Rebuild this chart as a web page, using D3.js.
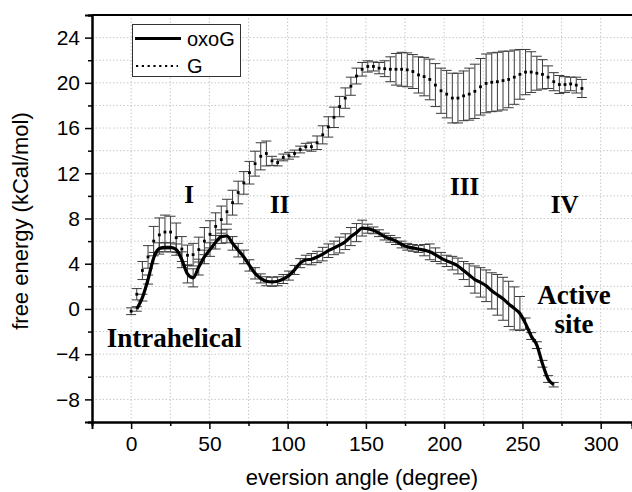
<!DOCTYPE html>
<html>
<head>
<meta charset="utf-8">
<script src="https://cdn.jsdelivr.net/npm/d3@7"></script>
<style>
  html, body { margin: 0; padding: 0; background: #fff; }
  svg { display: block; }
</style>
</head>
<body>
<svg id="chart" width="632" height="492"></svg>
<script>
// ---------- data ----------
const gAngle = [0,3.6,7.2,10.8,14.4,18,21.6,25.2,28.8,32.4,36,39.6,43.2,46.8,50.4,54,57.6,61.2,64.8,68.4,
  72,75.6,79.2,82.8,86.4,90,93.6,97.2,100.8,104.4,108,111.6,115.2,118.8,122.4,126,129.6,133.2,136.8,140.4,
  144,147.6,151.2,154.8,158.4,162,165.6,169.2,172.8,176.4,180,183.6,187.2,190.8,194.4,198,201.6,205.2,208.8,212.4,
  216,219.6,223.2,226.8,230.4,234,237.6,241.2,244.8,248.4,252,255.6,259.2,262.8,266.4,270,273.6,277.2,280.8,284.4,288];
const gMean = [-0.2,1.3,3.4,4.6,6.0,6.55,6.8,6.8,6.3,5.3,4.75,4.8,5.25,6.0,6.6,7.3,7.9,8.6,9.4,10.3,
  11.15,12.05,12.85,13.5,13.75,13.1,12.95,13.4,13.55,13.75,14.1,14.35,14.35,14.7,15.4,16.1,16.95,17.9,18.65,19.7,
  20.6,21.2,21.45,21.45,21.3,21.25,21.2,21.2,21.2,21.15,21.0,20.7,20.55,20.3,19.8,19.3,19.0,18.65,18.65,18.85,
  19.0,19.25,19.65,19.95,20.05,20.1,20.2,20.3,20.5,20.75,20.95,20.95,20.85,20.75,20.5,20.1,19.85,19.85,19.9,19.8,19.5];
const gErr = [0.3,0.5,0.8,1.0,1.3,1.5,1.5,1.4,1.3,1.1,0.9,1.0,1.1,1.2,1.2,1.2,1.2,1.1,1.1,1.0,
  1.0,1.0,1.1,1.2,1.1,0.4,0.3,0.3,0.3,0.3,0.3,0.3,0.4,0.6,0.8,0.9,0.9,0.9,0.9,0.8,
  0.7,0.6,0.5,0.4,0.5,0.7,1.1,1.4,1.5,1.5,1.5,1.6,1.7,1.8,1.9,2.0,2.1,2.2,2.2,2.2,
  2.3,2.4,2.5,2.6,2.6,2.6,2.6,2.5,2.4,2.2,2.0,1.8,1.5,1.3,1.0,0.8,0.8,0.7,0.6,0.7,0.8];

const oxoAngle = [3.6,7.2,10.8,14.4,18,21.6,25.2,28.8,32.4,36,39.6,43.2,46.8,50.4,54,57.6,61.2,64.8,68.4,
  72,75.6,79.2,82.8,86.4,90,93.6,97.2,100.8,104.4,108,111.6,115.2,118.8,122.4,126,129.6,133.2,136.8,140.4,
  144,147.6,151.2,154.8,158.4,162,165.6,169.2,172.8,176.4,180,183.6,187.2,190.8,194.4,198,201.6,205.2,208.8,212.4,
  216,219.6,223.2,226.8,230.4,234,237.6,241.2,244.8,248.4,252,255.6,259.2,262.8,266.4,270];
const oxoMean = [0.0,1.0,2.6,4.5,5.35,5.45,5.45,5.25,4.35,3.1,2.75,3.7,4.6,5.25,5.9,6.4,6.45,5.8,5.2,
  4.6,3.85,3.15,2.7,2.45,2.4,2.45,2.65,2.95,3.45,4.05,4.35,4.4,4.6,4.85,5.15,5.4,5.65,5.95,6.4,
  6.75,7.15,7.1,6.95,6.7,6.4,6.2,6.0,5.7,5.5,5.4,5.3,5.2,5.05,4.8,4.5,4.25,4.05,3.8,3.4,
  3.0,2.6,2.35,2.05,1.6,1.25,0.9,0.45,0.05,-0.4,-1.3,-2.4,-3.2,-4.85,-6.2,-6.7];
const oxoErr = [0.2,0.3,0.4,0.5,0.5,0.4,0.4,0.5,0.7,0.8,0.8,0.7,0.6,0.6,0.6,0.6,0.6,0.6,0.6,
  0.6,0.5,0.5,0.4,0.4,0.4,0.4,0.4,0.4,0.4,0.4,0.4,0.5,0.5,0.6,0.6,0.6,0.7,0.7,0.8,
  0.8,0.7,0.4,0.3,0.3,0.3,0.3,0.3,0.3,0.3,0.3,0.3,0.5,0.7,0.6,0.5,0.5,0.6,0.7,0.8,
  1.0,1.2,1.3,1.4,1.6,1.8,1.9,2.0,1.9,1.5,0.5,0.3,0.3,0.3,0.3,0.2];

const xMajorTicks = [0,50,100,150,200,250,300];
const xMinorTicks = [25,75,125,175,225,275];
const yMajorTicks = [-8,-4,0,4,8,12,16,20,24];
const yMinorTicks = [-10,-6,-2,2,6,10,14,18,22,26];
const xGrid = [0,25,50,75,100,125,150,175,200,225,250,275,300];
const yGrid = [-8,-6,-4,-2,0,2,4,6,8,10,12,14,16,18,20,22,24];

const annotations = [
  {text:"I", x:37, y:9.4},
  {text:"II", x:95, y:8.5},
  {text:"III", x:213, y:10.1},
  {text:"IV", x:277, y:8.5},
  {text:"Intrahelical", x:27.5, y:-3.4},
  {text:"Active", x:283, y:0.4},
  {text:"site", x:283, y:-2.1}
];

// ---------- layout ----------
const W = 632, H = 492;
const m = {left: 92, top: 15, right: 0, bottom: 70};
const svg = d3.select("#chart");
const x = d3.scaleLinear().domain([-25, 320]).range([m.left, W - m.right]);
const y = d3.scaleLinear().domain([-10, 26]).range([H - m.bottom, m.top]);
const sans = "'Liberation Sans', Arial, sans-serif";
const serif = "'Liberation Serif', 'Times New Roman', serif";

// grid
const grid = svg.append("g");
grid.selectAll("line.v").data(xGrid).join("line")
  .attr("x1", d => x(d)).attr("x2", d => x(d))
  .attr("y1", y(-10)).attr("y2", y(26))
  .attr("stroke", "#c8c8c8").attr("stroke-width", 1).attr("stroke-dasharray", "1.5,2");
grid.selectAll("line.h").data(yGrid).join("line")
  .attr("x1", x(-25)).attr("x2", x(320))
  .attr("y1", d => y(d)).attr("y2", d => y(d))
  .attr("stroke", "#c8c8c8").attr("stroke-width", 1).attr("stroke-dasharray", "1.5,2");

// error bars helper
function errorBars(g, ax, mean, err, color) {
  const data = ax.map((a, i) => ({a, m: mean[i], e: err[i]}));
  const cap = 5;
  g.selectAll("line.eb").data(data).join("line")
    .attr("x1", d => x(d.a)).attr("x2", d => x(d.a))
    .attr("y1", d => y(d.m - d.e)).attr("y2", d => y(d.m + d.e))
    .attr("stroke", color).attr("stroke-width", 1);
  g.selectAll("line.ct").data(data).join("line")
    .attr("x1", d => x(d.a) - cap).attr("x2", d => x(d.a) + cap)
    .attr("y1", d => y(d.m + d.e)).attr("y2", d => y(d.m + d.e))
    .attr("stroke", color).attr("stroke-width", 1);
  g.selectAll("line.cb").data(data).join("line")
    .attr("x1", d => x(d.a) - cap).attr("x2", d => x(d.a) + cap)
    .attr("y1", d => y(d.m - d.e)).attr("y2", d => y(d.m - d.e))
    .attr("stroke", color).attr("stroke-width", 1);
}
errorBars(svg.append("g"), gAngle, gMean, gErr, "#3a3a3a");
errorBars(svg.append("g"), oxoAngle, oxoMean, oxoErr, "#3a3a3a");

// oxoG line
const line = d3.line().x(d => x(d[0])).y(d => y(d[1])).curve(d3.curveMonotoneX);
svg.append("path")
  .datum(oxoAngle.map((a, i) => [a, oxoMean[i]]))
  .attr("d", line).attr("fill", "none").attr("stroke", "#000").attr("stroke-width", 3.2)
  .attr("stroke-linejoin", "round");

// G dots
svg.append("g").selectAll("rect").data(gAngle.map((a, i) => [a, gMean[i]])).join("rect")
  .attr("x", d => x(d[0]) - 1.4).attr("y", d => y(d[1]) - 1.4)
  .attr("width", 2.8).attr("height", 2.8).attr("fill", "#000");

// axes
const yAxis = svg.append("g").attr("transform", `translate(${m.left},0)`)
  .call(d3.axisLeft(y).tickValues(yMajorTicks).tickSize(7).tickPadding(5).tickFormat(d3.format("d")));
const yAxisMinor = svg.append("g").attr("transform", `translate(${m.left},0)`)
  .call(d3.axisLeft(y).tickValues(yMinorTicks).tickSize(4).tickFormat(""));
const xAxis = svg.append("g").attr("transform", `translate(0,${H - m.bottom})`)
  .call(d3.axisBottom(x).tickValues(xMajorTicks).tickSize(7).tickPadding(7));
const xAxisMinor = svg.append("g").attr("transform", `translate(0,${H - m.bottom})`)
  .call(d3.axisBottom(x).tickValues(xMinorTicks).tickSize(4).tickFormat(""));
[yAxis, yAxisMinor, xAxis, xAxisMinor].forEach(a => {
  a.select(".domain").attr("stroke", "#000").attr("stroke-width", 2);
  a.selectAll(".tick line").attr("stroke", "#000").attr("stroke-width", 1.5);
  a.selectAll("text").attr("font-family", sans).attr("font-size", 21).attr("fill", "#000");
});
// top border
svg.append("line").attr("x1", m.left).attr("x2", W).attr("y1", m.top).attr("y2", m.top)
  .attr("stroke", "#000").attr("stroke-width", 2);

// axis titles
svg.append("text").attr("x", 362).attr("y", 485).attr("text-anchor", "middle")
  .attr("font-family", sans).attr("font-size", 22).text("eversion angle (degree)");
svg.append("text").attr("transform", "translate(28,221) rotate(-90)").attr("text-anchor", "middle")
  .attr("font-family", sans).attr("font-size", 22).text("free energy (kCal/mol)");

// annotations
svg.append("g").selectAll("text").data(annotations).join("text")
  .attr("x", d => x(d.x)).attr("y", d => y(d.y)).attr("text-anchor", "middle")
  .attr("font-family", serif).attr("font-weight", "bold")
  .attr("font-size", d => d.text.length > 3 ? 27 : 25).text(d => d.text);

// legend
const lg = svg.append("g");
lg.append("rect").attr("x", 132.5).attr("y", 24.5).attr("width", 108).attr("height", 52)
  .attr("fill", "#fff").attr("stroke", "#333").attr("stroke-width", 1);
lg.append("line").attr("x1", 135).attr("x2", 181).attr("y1", 38.5).attr("y2", 38.5)
  .attr("stroke", "#000").attr("stroke-width", 3);
lg.append("line").attr("x1", 136).attr("x2", 178).attr("y1", 66).attr("y2", 66)
  .attr("stroke", "#000").attr("stroke-width", 2.2).attr("stroke-dasharray", "2.2,3.6");
lg.append("text").attr("x", 187).attr("y", 45.5).attr("font-family", sans).attr("font-size", 20).text("oxoG");
lg.append("text").attr("x", 187).attr("y", 73).attr("font-family", sans).attr("font-size", 20).text("G");
</script>
</body>
</html>
